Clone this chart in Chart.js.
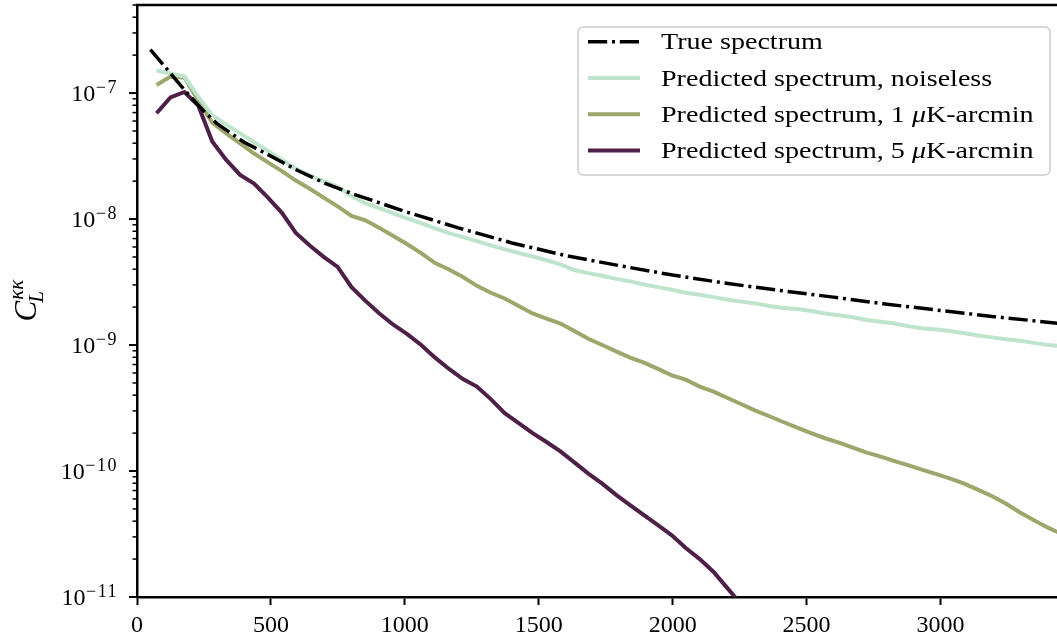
<!DOCTYPE html>
<html>
<head>
<meta charset="utf-8">
<script src="https://cdn.jsdelivr.net/npm/chart.js@4.4.1/dist/chart.umd.min.js"></script>
<style>
  html, body { margin: 0; padding: 0; background: #fff; }
  #wrap { width: 1057px; height: 639px; }
</style>
</head>
<body>
<div id="wrap"><canvas id="spectra" width="1057" height="639"></canvas></div>
<script>
// multipole values of the theory curve and its C_L
const trueL = [50, 100, 150, 200, 250, 300, 400, 500, 600, 700, 800, 1000, 1200, 1400,
    1600, 1800, 2000, 2200, 2400, 2600, 2800, 3000, 3200, 3450];
const trueCl = [2.21e-7, 1.66e-7, 1.24e-7, 9.33e-8, 7.16e-8, 5.69e-8, 4.07e-8, 3.16e-8,
    2.43e-8, 1.93e-8, 1.60e-8, 1.15e-8, 8.51e-9, 6.46e-9, 5.13e-9, 4.27e-9, 3.59e-9,
    3.09e-9, 2.71e-9, 2.40e-9, 2.11e-9, 1.88e-9, 1.68e-9, 1.48e-9];

// bin centres shared by the predicted spectra
const binL = [73, 125, 177, 229, 281, 333, 385, 437, 489, 541, 593, 645, 697, 749, 801,
    853, 905, 957, 1009, 1061, 1113, 1165, 1217, 1269, 1321, 1373, 1425, 1477, 1529, 1581,
    1633, 1685, 1737, 1789, 1841, 1893, 1945, 1997, 2049, 2101, 2153, 2205, 2257, 2309,
    2361, 2413, 2465, 2517, 2569, 2621, 2673, 2725, 2777, 2829, 2881, 2933, 2985, 3037,
    3089, 3141, 3193, 3245, 3297, 3349, 3401, 3453];

const clNoiseless = [1.51e-7, 1.43e-7, 1.35e-7, 9.33e-8, 6.68e-8, 5.62e-8, 4.79e-8, 4.07e-8,
    3.47e-8, 2.95e-8, 2.51e-8, 2.21e-8, 2.00e-8, 1.80e-8, 1.52e-8, 1.33e-8, 1.22e-8,
    1.11e-8, 1.01e-8, 9.27e-9, 8.45e-9, 7.73e-9, 7.19e-9, 6.67e-9, 6.18e-9, 5.75e-9,
    5.38e-9, 5.04e-9, 4.71e-9, 4.37e-9, 3.94e-9, 3.72e-9, 3.55e-9, 3.35e-9, 3.20e-9,
    3.02e-9, 2.88e-9, 2.75e-9, 2.60e-9, 2.51e-9, 2.40e-9, 2.29e-9, 2.21e-9, 2.14e-9,
    2.04e-9, 1.97e-9, 1.93e-9, 1.86e-9, 1.78e-9, 1.72e-9, 1.66e-9, 1.58e-9, 1.53e-9,
    1.48e-9, 1.41e-9, 1.36e-9, 1.33e-9, 1.29e-9, 1.24e-9, 1.19e-9, 1.15e-9, 1.11e-9,
    1.08e-9, 1.04e-9, 1.00e-9, 9.77e-10];

const cl1uK = [1.16e-7, 1.35e-7, 1.33e-7, 8.71e-8, 5.82e-8, 4.79e-8, 3.98e-8, 3.31e-8,
    2.82e-8, 2.40e-8, 2.02e-8, 1.74e-8, 1.48e-8, 1.26e-8, 1.06e-8, 9.77e-9, 8.51e-9,
    7.33e-9, 6.31e-9, 5.37e-9, 4.47e-9, 3.98e-9, 3.47e-9, 2.95e-9, 2.60e-9, 2.34e-9,
    2.04e-9, 1.78e-9, 1.62e-9, 1.48e-9, 1.29e-9, 1.12e-9, 1.00e-9, 8.91e-10, 7.94e-10,
    7.24e-10, 6.46e-10, 5.75e-10, 5.31e-10, 4.68e-10, 4.27e-10, 3.80e-10, 3.39e-10,
    3.02e-10, 2.72e-10, 2.45e-10, 2.21e-10, 2.00e-10, 1.82e-10, 1.68e-10, 1.53e-10,
    1.40e-10, 1.30e-10, 1.20e-10, 1.11e-10, 1.02e-10, 9.44e-11, 8.71e-11, 7.94e-11,
    7.08e-11, 6.31e-11, 5.50e-11, 4.68e-11, 4.07e-11, 3.55e-11, 3.16e-11];

const cl5uK = [6.92e-8, 9.23e-8, 1.02e-7, 7.94e-8, 4.12e-8, 2.95e-8, 2.24e-8, 1.91e-8,
    1.48e-8, 1.12e-8, 7.76e-9, 6.17e-9, 5.01e-9, 4.17e-9, 2.88e-9, 2.24e-9, 1.78e-9,
    1.45e-9, 1.22e-9, 1.00e-9, 7.94e-10, 6.46e-10, 5.37e-10, 4.68e-10, 3.72e-10, 2.88e-10,
    2.40e-10, 2.00e-10, 1.70e-10, 1.43e-10, 1.17e-10, 9.55e-11, 7.94e-11, 6.46e-11,
    5.37e-11, 4.47e-11, 3.72e-11, 3.09e-11, 2.45e-11, 2.00e-11, 1.58e-11, 1.17e-11,
    8.71e-12, 6.31e-12];

const seriesNames = ['True spectrum', 'Predicted spectrum, noiseless',
    'Predicted spectrum, 1 μK-arcmin', 'Predicted spectrum, 5 μK-arcmin'];
const seriesColors = ['#000000', '#bfe4cd', '#9ea66c', '#4e2048'];

const xTicks = [0, 500, 1000, 1500, 2000, 2500, 3000];
const xMax = 3435;
const yExponents = [-11, -10, -9, -8, -7];
const yMin = 1e-11;
const yMax = 5e-7;

const SERIF = "'Liberation Serif', 'DejaVu Serif', serif";
const DASHDOT = [19.2, 4.8, 3, 4.8];

function pairs(xs, ys) {
    return ys.map((y, i) => ({ x: xs[i], y: y }));
}

// draws a string stretched sideways, putting any μ in italics
function richText(ctx, text, x, y, size, stretch) {
    ctx.save();
    ctx.translate(x, y);
    ctx.scale(stretch, 1);
    let cx = 0;
    text.split(/(μ)/).forEach(part => {
        if (!part) return;
        ctx.font = (part === 'μ' ? 'italic ' : '') + size + 'px ' + SERIF;
        ctx.fillText(part, cx, 0);
        cx += ctx.measureText(part).width;
    });
    ctx.restore();
}

const axisDecor = {
    id: 'axisDecor',
    afterDraw(chart) {
        const ctx = chart.ctx;
        const area = chart.chartArea;
        const ys = chart.scales.y;
        ctx.save();

        // top spine
        ctx.strokeStyle = '#000';
        ctx.lineWidth = 2.5;
        ctx.beginPath();
        ctx.moveTo(area.left - 1.25, area.top);
        ctx.lineTo(chart.width, area.top);
        ctx.stroke();

        // log ticks on the y axis, decade labels as 10^n
        ctx.fillStyle = '#000';
        yExponents.forEach(e => {
            for (let m = 1; m <= 9; m++) {
                const v = m * Math.pow(10, e);
                if (v < yMin * 0.999 || v > yMax * 1.001) continue;
                const py = ys.getPixelForValue(v);
                ctx.lineWidth = m === 1 ? 2 : 1.5;
                ctx.beginPath();
                ctx.moveTo(area.left, py);
                ctx.lineTo(area.left - (m === 1 ? 8 : 4.5), py);
                ctx.stroke();
            }
            const py = ys.getPixelForValue(Math.pow(10, e));
            const expText = '\u2212' + Math.abs(e);
            ctx.font = '18px ' + SERIF;
            ctx.letterSpacing = '1.5px';
            ctx.textAlign = 'left';
            ctx.textBaseline = 'alphabetic';
            const ew = ctx.measureText(expText).width;
            const right = area.left - 19;
            ctx.fillText(expText, right - ew, py - 0.5);
            ctx.letterSpacing = '0px';
            ctx.font = '24px ' + SERIF;
            ctx.textAlign = 'right';
            ctx.fillText('10', right - ew - 0.5, py + 8.4);
        });

        // y axis title C_L^{kk}
        ctx.save();
        ctx.translate(36, (area.top + area.bottom) / 2);
        ctx.rotate(-Math.PI / 2);
        ctx.textAlign = 'left';
        ctx.textBaseline = 'alphabetic';
        ctx.font = 'italic 31px ' + SERIF;
        const wC = ctx.measureText('C').width;
        ctx.font = 'italic 21px ' + SERIF;
        const wK = ctx.measureText('κκ').width;
        const x0 = -(wC + wK) / 2;
        ctx.font = 'italic 31px ' + SERIF;
        ctx.fillText('C', x0, 0);
        ctx.font = 'italic 21px ' + SERIF;
        ctx.fillText('κκ', x0 + wC + 1, -13);
        ctx.fillText('L', x0 + wC - 2, 7);
        ctx.restore();

        // legend
        const bx = 578, by = 27, bw = 472, bh = 148;
        ctx.beginPath();
        ctx.roundRect(bx, by, bw, bh, 5);
        ctx.fillStyle = 'rgba(255,255,255,0.8)';
        ctx.fill();
        ctx.strokeStyle = '#cccccc';
        ctx.lineWidth = 1.5;
        ctx.stroke();

        ctx.textAlign = 'left';
        ctx.textBaseline = 'alphabetic';
        seriesNames.forEach((name, i) => {
            const ry = 41.7 + 36.3 * i;
            ctx.strokeStyle = seriesColors[i];
            ctx.lineWidth = i === 0 ? 3.5 : 4;
            ctx.setLineDash(i === 0 ? DASHDOT : []);
            ctx.beginPath();
            ctx.moveTo(588, ry);
            ctx.lineTo(640, ry);
            ctx.stroke();
            ctx.setLineDash([]);
            ctx.fillStyle = '#000';
            richText(ctx, name, 661, ry + 7.5, 23, 1.22);
        });

        ctx.restore();
    }
};

const datasets = [
    { label: seriesNames[0], data: pairs(trueL, trueCl), borderColor: seriesColors[0],
      borderWidth: 3.5, borderDash: DASHDOT },
    { label: seriesNames[1], data: pairs(binL, clNoiseless), borderColor: seriesColors[1],
      borderWidth: 4 },
    { label: seriesNames[2], data: pairs(binL, cl1uK), borderColor: seriesColors[2],
      borderWidth: 4 },
    { label: seriesNames[3], data: pairs(binL, cl5uK), borderColor: seriesColors[3],
      borderWidth: 4 }
].map(d => Object.assign(d, {
    pointRadius: 0, tension: 0, fill: false, clip: 0, borderCapStyle: 'butt'
}));

new Chart(document.getElementById('spectra'), {
    type: 'line',
    data: { datasets: datasets },
    options: {
        responsive: false,
        devicePixelRatio: 1,
        animation: false,
        layout: { padding: { top: 5, right: 0, left: 0, bottom: 0 } },
        plugins: { legend: { display: false }, tooltip: { enabled: false } },
        scales: {
            x: {
                type: 'linear',
                min: 0,
                max: xMax,
                afterFit: s => { s.height = 42; s.paddingRight = 0; },
                afterBuildTicks: s => { s.ticks = xTicks.map(v => ({ value: v })); },
                border: { color: '#000', width: 2.5 },
                grid: { drawOnChartArea: false, drawTicks: true, tickLength: 8,
                        tickWidth: 2, tickColor: '#000' },
                ticks: {
                    autoSkip: false,
                    maxRotation: 0,
                    padding: 6,
                    color: '#000',
                    font: { family: SERIF, size: 24 },
                    callback: v => String(v)
                }
            },
            y: {
                type: 'logarithmic',
                min: yMin,
                max: yMax,
                afterFit: s => { s.width = 137; },
                border: { color: '#000', width: 2.5 },
                grid: { display: false },
                ticks: { display: false }
            }
        }
    },
    plugins: [axisDecor]
});
</script>
</body>
</html>
